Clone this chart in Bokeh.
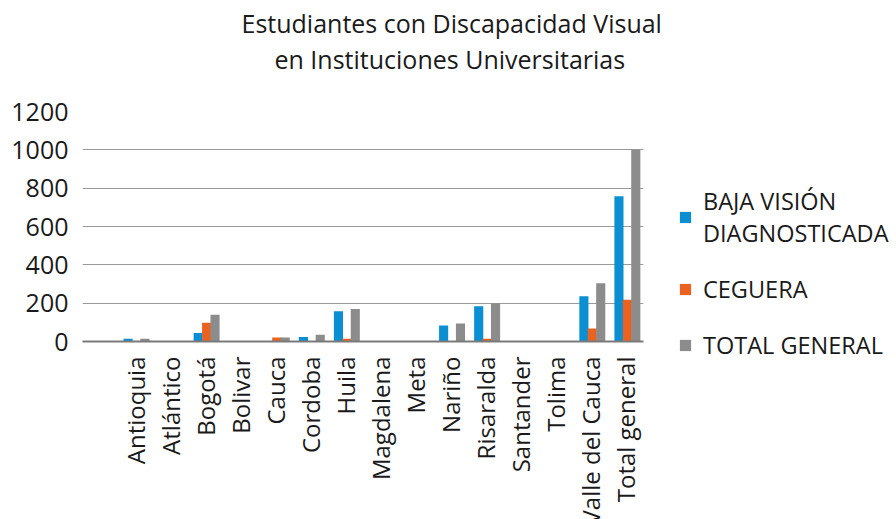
from bokeh.plotting import figure
from bokeh.models import Legend, LegendItem, FixedTicker, Title, ColumnDataSource
from bokeh.transform import dodge
from bokeh.embed import file_html
from bokeh.resources import INLINE
import math

categories = ["Antioquia", "Atlántico", "Bogotá", "Bolivar", "Cauca", "Cordoba", "Huila",
              "Magdalena", "Meta", "Nariño", "Risaralda", "Santander", "Tolima",
              "Valle del Cauca", "Total general"]
baja_vision = [15, 0, 45, 0, 0, 24, 158, 0, 0, 83, 184, 0, 0, 236, 758]
ceguera = [0, 0, 98, 0, 21, 0, 15, 0, 0, 0, 14, 0, 0, 68, 218]
total_general = [15, 0, 139, 0, 21, 35, 170, 0, 0, 94, 200, 0, 0, 304, 1000]
y_ticks = [0, 200, 400, 600, 800, 1000, 1200]
series_labels = ["BAJA VISIÓN\nDIAGNOSTICADA", "CEGUERA", "TOTAL GENERAL"]
title_lines = ["Estudiantes con Discapacidad Visual", "en Instituciones Universitarias"]
colors = ["#0A8FD2", "#EA6220", "#8C8C8C"]

FONT = "Open Sans"

# a blank leading slot, as in the original sheet
factors = [" "] + categories

p = figure(x_range=factors, y_range=(0, 1200), frame_width=561, frame_height=230,
           output_backend="svg", toolbar_location=None,
           min_border_left=82, min_border_right=10, min_border_top=111,
           min_border_bottom=170)
p.outline_line_color = None
p.background_fill_color = "white"
p.border_fill_color = "white"

source = ColumnDataSource(dict(cat=categories, a=baja_vision, b=ceguera, c=total_general))
w = 0.26
r1 = p.vbar(x=dodge("cat", -0.20, range=p.x_range), top="a", width=w, source=source,
            fill_color=colors[0], line_color=None)
r2 = p.vbar(x=dodge("cat", 0.04, range=p.x_range), top="b", width=w, source=source,
            fill_color=colors[1], line_color=None)
r3 = p.vbar(x=dodge("cat", 0.28, range=p.x_range), top="c", width=w, source=source,
            fill_color=colors[2], line_color=None)

p.xgrid.grid_line_color = None
p.ygrid.grid_line_color = "#9A9A9A"
p.ygrid.grid_line_width = 1
p.yaxis.ticker = FixedTicker(ticks=y_ticks)
p.yaxis.axis_line_color = None
p.yaxis.major_tick_line_color = None
p.yaxis.minor_tick_line_color = None
p.yaxis.major_label_text_font = FONT
p.yaxis.major_label_text_font_size = "25px"
p.yaxis.major_label_text_color = "#1a1a1a"
p.yaxis.major_label_standoff = 8

p.xaxis.axis_line_color = "#7A7A7A"
p.xaxis.axis_line_width = 2
p.xaxis.major_tick_line_color = None
p.xaxis.minor_tick_line_color = None
p.xaxis.major_label_orientation = math.pi / 2
p.xaxis.major_label_text_font = FONT
p.xaxis.major_label_text_font_size = "24px"
p.xaxis.major_label_text_color = "#1a1a1a"
p.xaxis.major_label_standoff = 9
p.x_range.range_padding = 0

legend = Legend(items=[LegendItem(label=series_labels[0], renderers=[r1]),
                       LegendItem(label=series_labels[1], renderers=[r2]),
                       LegendItem(label=series_labels[2], renderers=[r3])],
                location=(35, -20), orientation="vertical",
                label_text_font=FONT, label_text_font_size="23.5px", label_text_color="#1a1a1a",
                glyph_width=14, glyph_height=14, spacing=24, label_standoff=11,
                padding=0, margin=0,
                background_fill_alpha=0, border_line_color=None)
p.add_layout(legend, "right")

spacer = Title(text=" ", text_font=FONT, text_font_size="25px", standoff=0)
t2 = Title(text=title_lines[1], align="left", offset=192, text_font=FONT,
           text_font_size="25px", text_font_style="normal", text_color="#1a1a1a", standoff=0)
t1 = Title(text=title_lines[0], align="left", offset=159, text_font=FONT,
           text_font_size="25px", text_font_style="normal", text_color="#1a1a1a", standoff=0)
p.add_layout(spacer, "above")
p.add_layout(t2, "above")
p.add_layout(t1, "above")

open("out.html", "w").write(file_html(p, INLINE))
